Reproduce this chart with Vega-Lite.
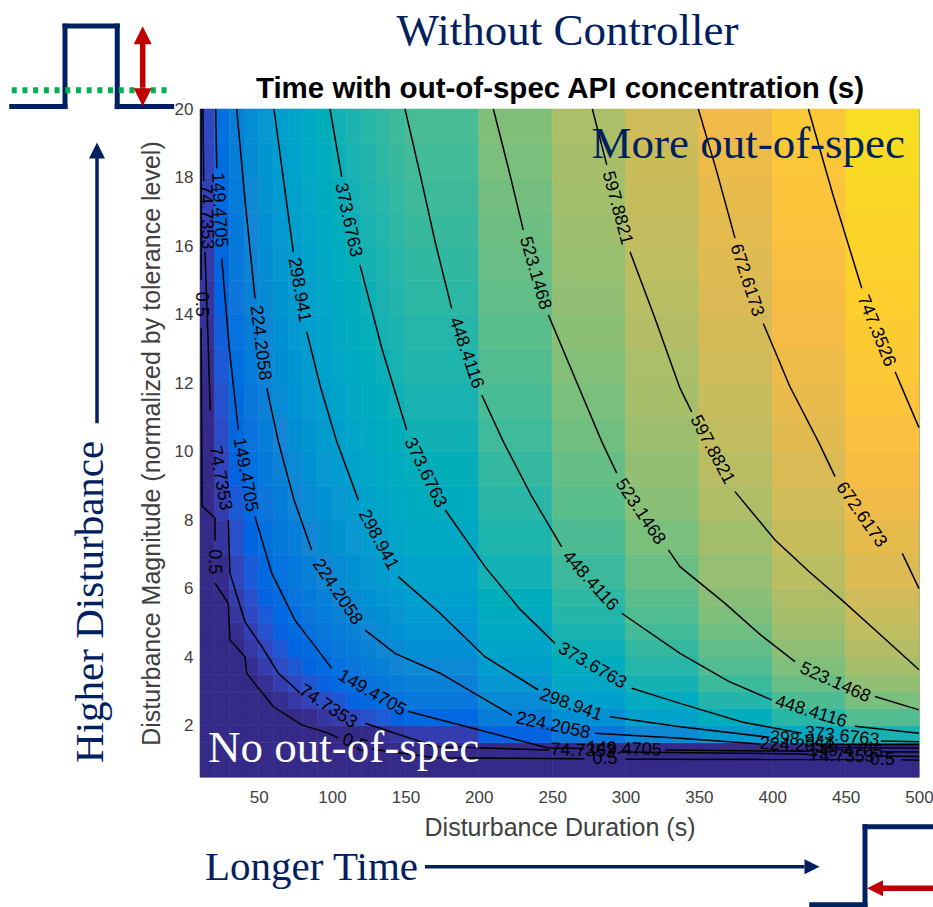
{
  "$schema": "https://vega.github.io/schema/vega-lite/v6.json",
  "width": 719,
  "height": 668,
  "autosize": {"type": "none"},
  "padding": {"left": 200, "top": 109, "right": 14, "bottom": 130},
  "background": "white",
  "config": {
    "view": {"stroke": "#a6a6a6", "strokeWidth": 1},
    "axis": {"grid": false, "ticks": false, "tickSize": 0, "domain": false, "labelFlush": false, "labelFont": "Liberation Sans", "labelFontSize": 17, "labelColor": "#404040", "titleFont": "Liberation Sans", "titleFontSize": 25, "titleFontWeight": "normal", "titleColor": "#404040"},
    "axisX": {"labelPadding": 12, "titlePadding": 10},
    "axisY": {"labelPadding": 7, "titlePadding": 10}
  },
  "datasets": {
    "grid": [
      {"m0": 0.5, "m1": 1.5, "v": [0,0,0,0,0,0,0,0,0,0,0,0,0,0,0,0,0,0,0,0,0]},
      {"m0": 1.5, "m1": 2, "v": [0,0,0,0,0,0,0,0,0,0,0,0,14,28,41,104,162,216,269,321,372]},
      {"m0": 2, "m1": 2.5, "v": [0,0,0,0,0,0,0,7,26,43,60,75,90,104,118,181,238,293,345,397,448]},
      {"m0": 2.5, "m1": 3, "v": [0,0,0,0,0,9,32,52,71,88,104,120,134,149,162,225,283,337,390,442,493]},
      {"m0": 3, "m1": 3.5, "v": [0,0,0,0,15,41,63,84,102,120,136,151,166,180,194,257,314,369,422,473,524]},
      {"m0": 3.5, "m1": 4, "v": [0,0,0,10,40,66,88,108,127,144,160,176,191,205,218,281,339,393,446,498,549]},
      {"m0": 4, "m1": 4.5, "v": [0,0,0,30,60,86,108,128,147,164,180,196,211,225,238,301,359,413,466,518,569]},
      {"m0": 4.5, "m1": 5, "v": [0,0,10,47,77,103,125,145,164,181,197,213,228,242,255,318,376,430,483,535,586]},
      {"m0": 5, "m1": 5.5, "v": [0,0,25,62,92,117,140,160,179,196,212,228,242,256,270,333,391,445,498,550,601]},
      {"m0": 5.5, "m1": 6, "v": [0,0,38,75,105,130,153,173,191,209,225,240,255,269,283,346,403,458,511,563,614]},
      {"m0": 6, "m1": 7, "v": [0,5,55,92,122,147,170,190,208,226,242,257,272,286,300,363,420,475,528,580,631]},
      {"m0": 7, "m1": 8, "v": [0,24,74,111,141,166,189,209,228,245,261,277,291,306,319,382,440,494,547,599,650]},
      {"m0": 8, "m1": 9, "v": [0,41,90,127,157,183,205,225,244,261,277,293,308,322,335,398,456,511,563,615,666]},
      {"m0": 9, "m1": 10, "v": [0,55,105,141,171,197,219,240,258,275,292,307,322,336,350,413,470,525,577,629,680]},
      {"m0": 10, "m1": 11, "v": [0,67,117,154,184,209,232,252,271,288,304,320,334,349,362,425,483,537,590,642,693]},
      {"m0": 11, "m1": 12, "v": [0,79,128,165,195,221,243,263,282,299,316,331,346,360,374,437,494,549,601,653,704]},
      {"m0": 12, "m1": 13, "v": [8,89,139,176,205,231,253,274,292,310,326,341,356,370,384,447,504,559,612,663,714]},
      {"m0": 13, "m1": 14, "v": [17,98,148,185,215,240,263,283,302,319,335,351,365,380,393,456,514,568,621,673,724]},
      {"m0": 14, "m1": 15, "v": [26,107,157,194,223,249,271,292,310,328,344,359,374,388,402,465,522,577,630,681,732]},
      {"m0": 15, "m1": 16, "v": [34,115,165,202,231,257,279,300,318,336,352,367,382,396,410,473,530,585,638,689,740]},
      {"m0": 16, "m1": 17, "v": [41,122,172,209,239,264,287,307,326,343,359,375,389,404,417,480,538,592,645,697,748]},
      {"m0": 17, "m1": 18, "v": [48,129,179,216,246,271,294,314,333,350,366,382,396,411,424,487,545,599,652,704,755]},
      {"m0": 18, "m1": 19, "v": [55,136,186,223,253,278,300,321,339,357,373,388,403,417,431,494,551,606,659,710,761]},
      {"m0": 19, "m1": 20, "v": [61,142,192,229,259,284,307,327,346,363,379,395,409,423,437,500,558,612,665,717,768]}
    ],
    "cols": [
      {"i":1,"d0":10,"d1":20},{"i":2,"d0":20,"d1":30},{"i":3,"d0":30,"d1":40},{"i":4,"d0":40,"d1":50},
      {"i":5,"d0":50,"d1":60},{"i":6,"d0":60,"d1":70},{"i":7,"d0":70,"d1":80},{"i":8,"d0":80,"d1":90},
      {"i":9,"d0":90,"d1":100},{"i":10,"d0":100,"d1":110},{"i":11,"d0":110,"d1":120},{"i":12,"d0":120,"d1":130},
      {"i":13,"d0":130,"d1":140},{"i":14,"d0":140,"d1":150},{"i":15,"d0":150,"d1":200},{"i":16,"d0":200,"d1":250},
      {"i":17,"d0":250,"d1":300},{"i":18,"d0":300,"d1":350},{"i":19,"d0":350,"d1":400},{"i":20,"d0":400,"d1":450},
      {"i":21,"d0":450,"d1":500}
    ],
    "cont": [
      {"s":"747a","x":424.6,"y":20},{"s":"747a","x":441.4,"y":17.49},{"s":"747a","x":461.0,"y":14.77},
      {"s":"747b","x":483.7,"y":12.33},{"s":"747b","x":500,"y":10.7},
      {"s":"672a","x":349.6,"y":20},{"s":"672a","x":362,"y":18.2},{"s":"672a","x":374.6,"y":16.23},
      {"s":"672b","x":393.9,"y":13.74},{"s":"672b","x":412,"y":11.9},{"s":"672b","x":431.4,"y":10.29},{"s":"672b","x":442.8,"y":9.27},
      {"s":"672c","x":488.6,"y":7.03},{"s":"672c","x":500,"y":6.0},
      {"s":"597a","x":277.4,"y":20},{"s":"597a","x":287.2,"y":18.37},
      {"s":"597b","x":303.1,"y":15.83},{"s":"597b","x":320,"y":13.9},{"s":"597b","x":337.1,"y":11.85},{"s":"597b","x":345.1,"y":11.16},
      {"s":"597c","x":374.6,"y":8.83},{"s":"597c","x":401.9,"y":7.42},{"s":"597c","x":425,"y":6.5},{"s":"597c","x":447.3,"y":5.67},{"s":"597c","x":475,"y":4.6},{"s":"597c","x":500,"y":3.63},
      {"s":"523a","x":209.9,"y":20},{"s":"523a","x":220,"y":18.3},{"s":"523a","x":230.3,"y":16.47},
      {"s":"523b","x":247.4,"y":13.99},{"s":"523b","x":265,"y":12.2},{"s":"523b","x":283.8,"y":10.29},{"s":"523b","x":294.0,"y":9.37},
      {"s":"523c","x":329.2,"y":7.13},{"s":"523c","x":337.1,"y":6.64},{"s":"523c","x":367.8,"y":5.57},{"s":"523c","x":392,"y":4.65},{"s":"523c","x":415.5,"y":3.87},
      {"s":"523d","x":470.0,"y":2.85},{"s":"523d","x":500,"y":2.46},
      {"s":"448a","x":149.7,"y":20},{"s":"448a","x":160,"y":18.1},{"s":"448a","x":170.2,"y":16.13},{"s":"448a","x":181.5,"y":14.18},
      {"s":"448b","x":202.0,"y":11.65},{"s":"448b","x":216.7,"y":10.29},{"s":"448b","x":236,"y":8.7},{"s":"448b","x":256.5,"y":7.22},
      {"s":"448c","x":297.4,"y":5.28},{"s":"448c","x":337.1,"y":4.11},{"s":"448c","x":370,"y":3.3},{"s":"448c","x":399.6,"y":2.75},
      {"s":"448d","x":456.4,"y":1.98},{"s":"448d","x":500,"y":1.78},
      {"s":"373a","x":98.6,"y":20},{"s":"373a","x":106.6,"y":18.02},
      {"s":"373b","x":119.0,"y":15.45},{"s":"373b","x":134,"y":13.0},{"s":"373b","x":150.9,"y":10.63},
      {"s":"373c","x":177.0,"y":8.30},{"s":"373c","x":204.2,"y":6.64},{"s":"373c","x":228,"y":5.4},{"s":"373c","x":251.9,"y":4.40},
      {"s":"373d","x":304.2,"y":3.09},{"s":"373d","x":337.1,"y":2.65},{"s":"373d","x":380,"y":2.1},{"s":"373d","x":420.1,"y":1.78},
      {"s":"373e","x":474,"y":1.55},{"s":"373e","x":500,"y":1.53},
      {"s":"298a","x":60.4,"y":20},{"s":"298a","x":67,"y":17.9},{"s":"298a","x":73.6,"y":15.83},
      {"s":"298b","x":82.7,"y":13.50},{"s":"298b","x":92,"y":11.9},{"s":"298b","x":103.2,"y":10.29},{"s":"298b","x":117.9,"y":8.59},
      {"s":"298c","x":145.1,"y":6.35},{"s":"298c","x":173.6,"y":5.28},{"s":"298c","x":204.2,"y":4.01},{"s":"298c","x":240.6,"y":3.04},
      {"s":"298d","x":289.4,"y":2.26},{"s":"298d","x":337.1,"y":1.97},{"s":"298d","x":398,"y":1.66},
      {"s":"298e","x":443,"y":1.45},{"s":"298e","x":500,"y":1.44},
      {"s":"224a","x":35.0,"y":20},{"s":"224a","x":41,"y":17.2},{"s":"224a","x":47.5,"y":14.47},
      {"s":"224b","x":55.5,"y":11.85},{"s":"224b","x":63.4,"y":10.29},{"s":"224b","x":74,"y":8.6},{"s":"224b","x":86.1,"y":7.13},
      {"s":"224c","x":122.5,"y":4.79},{"s":"224c","x":142.9,"y":4.11},{"s":"224c","x":173.6,"y":3.53},{"s":"224c","x":222.4,"y":2.31},
      {"s":"224d","x":279.2,"y":1.78},{"s":"224d","x":337.1,"y":1.63},{"s":"224d","x":392,"y":1.46},
      {"s":"224e","x":442,"y":1.36},{"s":"224e","x":500,"y":1.35},
      {"s":"149a","x":20.7,"y":20},{"s":"149a","x":21.4,"y":18.27},
      {"s":"149b","x":24.8,"y":15.64},{"s":"149b","x":30,"y":13.0},{"s":"149b","x":36.1,"y":10.63},
      {"s":"149c","x":47.5,"y":8.10},{"s":"149c","x":58.9,"y":6.45},{"s":"149c","x":74.7,"y":5.08},{"s":"149c","x":99.8,"y":3.67},
      {"s":"149d","x":152.0,"y":2.41},{"s":"149d","x":173.6,"y":2.17},{"s":"149d","x":247.2,"y":1.35},{"s":"149d","x":272,"y":1.33},
      {"s":"149e","x":327,"y":1.29},{"s":"149e","x":425,"y":1.25},
      {"s":"149f","x":475,"y":1.24},{"s":"149f","x":500,"y":1.23},
      {"s":"74a","x":12.0,"y":20},{"s":"74a","x":12.5,"y":17.9},
      {"s":"74b","x":13.4,"y":15.83},{"s":"74b","x":15.5,"y":13.26},{"s":"74b","x":17,"y":11.2},
      {"s":"74c","x":29.3,"y":8.0},{"s":"74c","x":30.4,"y":6.45},{"s":"74c","x":40.7,"y":5.03},{"s":"74c","x":52.1,"y":4.31},{"s":"74c","x":63.4,"y":3.53},{"s":"74c","x":74.7,"y":3.09},{"s":"74c","x":78,"y":2.95},
      {"s":"74d","x":122.5,"y":2.07},{"s":"74d","x":170.2,"y":1.39},{"s":"74d","x":245.1,"y":1.29},{"s":"74d","x":248,"y":1.28},
      {"s":"74e","x":296,"y":1.23},{"s":"74e","x":420,"y":1.17},{"s":"74e","x":425,"y":1.16},
      {"s":"74f","x":470,"y":1.11},{"s":"74f","x":500,"y":1.10},
      {"s":"05a","x":10.8,"y":20},{"s":"05a","x":10.8,"y":15.0},
      {"s":"05b","x":10.8,"y":13.6},{"s":"05b","x":11.4,"y":8.41},{"s":"05b","x":20.2,"y":8.06},{"s":"05b","x":20.2,"y":7.4},
      {"s":"05c","x":20.2,"y":6.16},{"s":"05c","x":29.3,"y":5.57},{"s":"05c","x":30.4,"y":4.50},{"s":"05c","x":40.7,"y":4.01},{"s":"05c","x":41.8,"y":3.53},{"s":"05c","x":60.0,"y":2.55},{"s":"05c","x":79.3,"y":2.02},{"s":"05c","x":97.4,"y":1.78},{"s":"05c","x":104,"y":1.64},
      {"s":"05d","x":127,"y":1.32},{"s":"05d","x":170.2,"y":1.06},{"s":"05d","x":272,"y":1.03},
      {"s":"05e","x":300,"y":1.02},{"s":"05e","x":462,"y":1.01},
      {"s":"05f","x":488,"y":1.0},{"s":"05f","x":500,"y":0.99}
    ],
    "lab": [
      {"t":"747.3526","x":470.7,"y":13.52,"a":68},
      {"t":"672.6173","x":382.5,"y":15.0,"a":72},
      {"t":"672.6173","x":460.5,"y":8.15,"a":55},
      {"t":"597.8821","x":294.2,"y":17.11,"a":75},
      {"t":"597.8821","x":358.9,"y":10.05,"a":62},
      {"t":"523.1468","x":238.3,"y":15.21,"a":74},
      {"t":"523.1468","x":309.9,"y":8.24,"a":56},
      {"t":"523.1468","x":442.8,"y":3.25,"a":24},
      {"t":"448.4116","x":191.3,"y":12.88,"a":71},
      {"t":"448.4116","x":275.8,"y":6.22,"a":48},
      {"t":"448.4116","x":426.4,"y":2.40,"a":17},
      {"t":"373.6763","x":110.9,"y":16.76,"a":78},
      {"t":"373.6763","x":163.3,"y":9.38,"a":64},
      {"t":"373.6763","x":277.2,"y":3.74,"a":30},
      {"t":"373.6763","x":447.5,"y":1.68,"a":6},
      {"t":"298.941","x":77.5,"y":14.72,"a":80},
      {"t":"298.941","x":131.3,"y":7.42,"a":62},
      {"t":"298.941","x":262.8,"y":2.60,"a":20},
      {"t":"298.941","x":420.3,"y":1.56,"a":6},
      {"t":"224.2058","x":50.9,"y":13.17,"a":83},
      {"t":"224.2058","x":103.4,"y":5.90,"a":56},
      {"t":"224.2058","x":250.6,"y":1.99,"a":12},
      {"t":"224.2058","x":417,"y":1.41,"a":3},
      {"t":"149.4705","x":22.9,"y":17.05,"a":87},
      {"t":"149.4705","x":40.7,"y":9.32,"a":80},
      {"t":"149.4705","x":127.2,"y":2.95,"a":30},
      {"t":"149.4705","x":299,"y":1.31,"a":2},
      {"t":"149.4705","x":450,"y":1.25,"a":1},
      {"t":"74.7353","x":14.1,"y":16.85,"a":88},
      {"t":"74.7353","x":23.6,"y":9.22,"a":80},
      {"t":"74.7353","x":97.2,"y":2.55,"a":33},
      {"t":"74.7353","x":271,"y":1.26,"a":2},
      {"t":"74.7353","x":447.5,"y":1.10,"a":1},
      {"t":"0.5","x":10.5,"y":14.3,"a":90},
      {"t":"0.5","x":19.5,"y":6.78,"a":90},
      {"t":"0.5","x":115.5,"y":1.48,"a":20},
      {"t":"0.5","x":286,"y":1.02,"a":0},
      {"t":"0.5","x":475,"y":1.0,"a":0}
    ]
  },
  "layer": [
    {
      "data": {"name": "grid"},
      "transform": [
        {"flatten": ["v"]},
        {"window": [{"op": "row_number", "as": "i"}], "groupby": ["m0"]},
        {"lookup": "i", "from": {"data": {"name": "cols"}, "key": "i", "fields": ["d0", "d1"]}}
      ],
      "mark": {"type": "rect", "strokeWidth": 0.6},
      "encoding": {
        "x": {"field": "d0", "type": "quantitative", "title": "Disturbance Duration (s)", "scale": {"domain": [10, 500], "nice": false, "zero": false},
          "axis": {"values": [50,100,150,200,250,300,350,400,450,500]}},
        "x2": {"field": "d1"},
        "y": {"field": "m0", "type": "quantitative", "title": "Disturbance Magnitude (normalized by tolerance level)", "scale": {"domain": [0.5, 20], "nice": false, "zero": false},
          "axis": {"values": [2,4,6,8,10,12,14,16,18,20]}},
        "y2": {"field": "m1"},
        "color": {"field": "v", "type": "quantitative", "legend": null,
          "scale": {"domain": [0,52.2,104.4,156.6,208.8,261.0,313.2,365.4,417.6,469.8,522.0,574.1,626.3,678.5,730.7,782.9,822.1],
            "range": ["#352a87","#3243ba","#0363e1","#0d75dc","#1485d4","#0998d1","#06a7c6","#15b1b4","#38b99e","#65be86","#92bf73","#b7bd64","#d9ba56","#f8bb44","#fcce2e","#f5e41d","#f9fb0e"], "clamp": true}},
        "stroke": {"field": "v", "type": "quantitative", "legend": null,
          "scale": {"domain": [0,52.2,104.4,156.6,208.8,261.0,313.2,365.4,417.6,469.8,522.0,574.1,626.3,678.5,730.7,782.9,822.1],
            "range": ["#352a87","#3243ba","#0363e1","#0d75dc","#1485d4","#0998d1","#06a7c6","#15b1b4","#38b99e","#65be86","#92bf73","#b7bd64","#d9ba56","#f8bb44","#fcce2e","#f5e41d","#f9fb0e"], "clamp": true}}
      }
    },
    {
      "data": {"name": "cont"},
      "mark": {"type": "line", "color": "#000000", "strokeWidth": 1.5},
      "encoding": {
        "x": {"field": "x", "type": "quantitative", "title": "Disturbance Duration (s)"},
        "y": {"field": "y", "type": "quantitative", "title": "Disturbance Magnitude (normalized by tolerance level)"},
        "detail": {"field": "s"},
        "order": {"field": "y", "type": "quantitative", "sort": "descending"}
      }
    },
    {
      "data": {"name": "lab"},
      "mark": {"type": "text", "font": "Liberation Sans", "fontSize": 18, "color": "#000000", "align": "center", "baseline": "middle"},
      "encoding": {
        "x": {"field": "x", "type": "quantitative", "title": "Disturbance Duration (s)"},
        "y": {"field": "y", "type": "quantitative", "title": "Disturbance Magnitude (normalized by tolerance level)"},
        "text": {"field": "t"},
        "angle": {"field": "a", "type": "quantitative", "scale": null}
      }
    },
    {
      "data": {"values": [{"t": "Without Controller", "x": 260.5, "y": 21.87}]},
      "mark": {"type": "text", "font": "Liberation Serif", "fontSize": 45, "color": "#002060", "align": "center", "baseline": "alphabetic"},
      "encoding": {"x": {"field": "x", "type": "quantitative", "title": "Disturbance Duration (s)"}, "y": {"field": "y", "type": "quantitative", "title": "Disturbance Magnitude (normalized by tolerance level)"}, "text": {"field": "t"}}
    },
    {
      "data": {"values": [{"t": "Time with out-of-spec API concentration (s)", "x": 255.3, "y": 20.32}]},
      "mark": {"type": "text", "font": "Liberation Sans", "fontSize": 29.5, "fontWeight": "bold", "color": "#000000", "align": "center", "baseline": "alphabetic"},
      "encoding": {"x": {"field": "x", "type": "quantitative", "title": "Disturbance Duration (s)"}, "y": {"field": "y", "type": "quantitative", "title": "Disturbance Magnitude (normalized by tolerance level)"}, "text": {"field": "t"}}
    },
    {
      "data": {"values": [{"t": "More out-of-spec", "x": 490.5, "y": 18.57}]},
      "mark": {"type": "text", "font": "Liberation Serif", "fontSize": 45, "color": "#002060", "align": "right", "baseline": "alphabetic"},
      "encoding": {"x": {"field": "x", "type": "quantitative", "title": "Disturbance Duration (s)"}, "y": {"field": "y", "type": "quantitative", "title": "Disturbance Magnitude (normalized by tolerance level)"}, "text": {"field": "t"}}
    },
    {
      "data": {"values": [{"t": "No out-of-spec", "x": 15.5, "y": 0.94}]},
      "mark": {"type": "text", "font": "Liberation Serif", "fontSize": 45, "color": "#ffffff", "align": "left", "baseline": "alphabetic"},
      "encoding": {"x": {"field": "x", "type": "quantitative", "title": "Disturbance Duration (s)"}, "y": {"field": "y", "type": "quantitative", "title": "Disturbance Magnitude (normalized by tolerance level)"}, "text": {"field": "t"}}
    },
    {
      "data": {"values": [{"t": "Higher Disturbance", "x": -56.1, "y": 0.91}]},
      "mark": {"type": "text", "font": "Liberation Serif", "fontSize": 41, "color": "#002060", "align": "left", "baseline": "alphabetic", "angle": 270},
      "encoding": {"x": {"field": "x", "type": "quantitative", "title": "Disturbance Duration (s)"}, "y": {"field": "y", "type": "quantitative", "title": "Disturbance Magnitude (normalized by tolerance level)"}, "text": {"field": "t"}}
    },
    {
      "data": {"values": [{"t": "Longer Time", "x": 13.4, "y": -2.5}]},
      "mark": {"type": "text", "font": "Liberation Serif", "fontSize": 41, "color": "#002060", "align": "left", "baseline": "alphabetic"},
      "encoding": {"x": {"field": "x", "type": "quantitative", "title": "Disturbance Duration (s)"}, "y": {"field": "y", "type": "quantitative", "title": "Disturbance Magnitude (normalized by tolerance level)"}, "text": {"field": "t"}}
    },
    {
      "data": {"values": [
        {"x": -118.3, "y": 20.07, "x2": -82.0, "y2": 20.07},
        {"x": -82.0, "y": 20.07, "x2": -82.0, "y2": 22.42},
        {"x": -82.0, "y": 22.42, "x2": -46.4, "y2": 22.42},
        {"x": -46.4, "y": 22.42, "x2": -46.4, "y2": 20.07},
        {"x": -46.4, "y": 20.07, "x2": -9.3, "y2": 20.07},
        {"x": 426.9, "y": -3.23, "x2": 463.2, "y2": -3.23},
        {"x": 463.2, "y": -3.23, "x2": 463.2, "y2": -0.95},
        {"x": 463.2, "y": -0.95, "x2": 515, "y2": -0.95}
      ]},
      "mark": {"type": "rule", "color": "#002060", "strokeWidth": 5, "strokeCap": "square"},
      "encoding": {"x": {"field": "x", "type": "quantitative", "title": "Disturbance Duration (s)"}, "y": {"field": "y", "type": "quantitative", "title": "Disturbance Magnitude (normalized by tolerance level)"}, "x2": {"field": "x2"}, "y2": {"field": "y2"}}
    },
    {
      "data": {"values": [
        {"x": -60.2, "y": 18.6, "x2": -60.2, "y2": 10.83},
        {"x": 163.3, "y": -2.12, "x2": 422, "y2": -2.12}
      ]},
      "mark": {"type": "rule", "color": "#002060", "strokeWidth": 3.5},
      "encoding": {"x": {"field": "x", "type": "quantitative", "title": "Disturbance Duration (s)"}, "y": {"field": "y", "type": "quantitative", "title": "Disturbance Magnitude (normalized by tolerance level)"}, "x2": {"field": "x2"}, "y2": {"field": "y2"}}
    },
    {
      "data": {"values": [
        {"x": -29.05, "y": 21.95, "x2": -29.05, "y2": 20.5},
        {"x": 472, "y": -2.75, "x2": 515, "y2": -2.75}
      ]},
      "mark": {"type": "rule", "color": "#c00000", "strokeWidth": 5.5},
      "encoding": {"x": {"field": "x", "type": "quantitative", "title": "Disturbance Duration (s)"}, "y": {"field": "y", "type": "quantitative", "title": "Disturbance Magnitude (normalized by tolerance level)"}, "x2": {"field": "x2"}, "y2": {"field": "y2"}}
    },
    {
      "data": {"values": [{"x": -118.3, "y": 20.55, "x2": -9.3, "y2": 20.55}]},
      "mark": {"type": "rule", "color": "#00b050", "strokeWidth": 6, "strokeDash": [5, 5.7]},
      "encoding": {"x": {"field": "x", "type": "quantitative", "title": "Disturbance Duration (s)"}, "y": {"field": "y", "type": "quantitative", "title": "Disturbance Magnitude (normalized by tolerance level)"}, "x2": {"field": "x2"}, "y2": {"field": "y2"}}
    },
    {
      "data": {"values": [{"x": -29.05, "y": 22.15}]},
      "mark": {"type": "point", "filled": true, "opacity": 1, "color": "#c00000", "shape": "M-1,1L0,-1L1,1Z", "size": 324},
      "encoding": {"x": {"field": "x", "type": "quantitative", "title": "Disturbance Duration (s)"}, "y": {"field": "y", "type": "quantitative", "title": "Disturbance Magnitude (normalized by tolerance level)"}}
    },
    {
      "data": {"values": [{"x": -29.05, "y": 20.34}]},
      "mark": {"type": "point", "filled": true, "opacity": 1, "color": "#c00000", "shape": "M-1,-1L0,1L1,-1Z", "size": 324},
      "encoding": {"x": {"field": "x", "type": "quantitative", "title": "Disturbance Duration (s)"}, "y": {"field": "y", "type": "quantitative", "title": "Disturbance Magnitude (normalized by tolerance level)"}}
    },
    {
      "data": {"values": [{"x": 470.0, "y": -2.75}]},
      "mark": {"type": "point", "filled": true, "opacity": 1, "color": "#c00000", "shape": "M1,-1L-1,0L1,1Z", "size": 256},
      "encoding": {"x": {"field": "x", "type": "quantitative", "title": "Disturbance Duration (s)"}, "y": {"field": "y", "type": "quantitative", "title": "Disturbance Magnitude (normalized by tolerance level)"}}
    },
    {
      "data": {"values": [{"x": -60.2, "y": 18.79}]},
      "mark": {"type": "point", "filled": true, "opacity": 1, "color": "#002060", "shape": "M-1,1L0,-1L1,1Z", "size": 256},
      "encoding": {"x": {"field": "x", "type": "quantitative", "title": "Disturbance Duration (s)"}, "y": {"field": "y", "type": "quantitative", "title": "Disturbance Magnitude (normalized by tolerance level)"}}
    },
    {
      "data": {"values": [{"x": 427.1, "y": -2.12}]},
      "mark": {"type": "point", "filled": true, "opacity": 1, "color": "#002060", "shape": "M-1,-1L1,0L-1,1Z", "size": 225},
      "encoding": {"x": {"field": "x", "type": "quantitative", "title": "Disturbance Duration (s)"}, "y": {"field": "y", "type": "quantitative", "title": "Disturbance Magnitude (normalized by tolerance level)"}}
    }
  ]
}
